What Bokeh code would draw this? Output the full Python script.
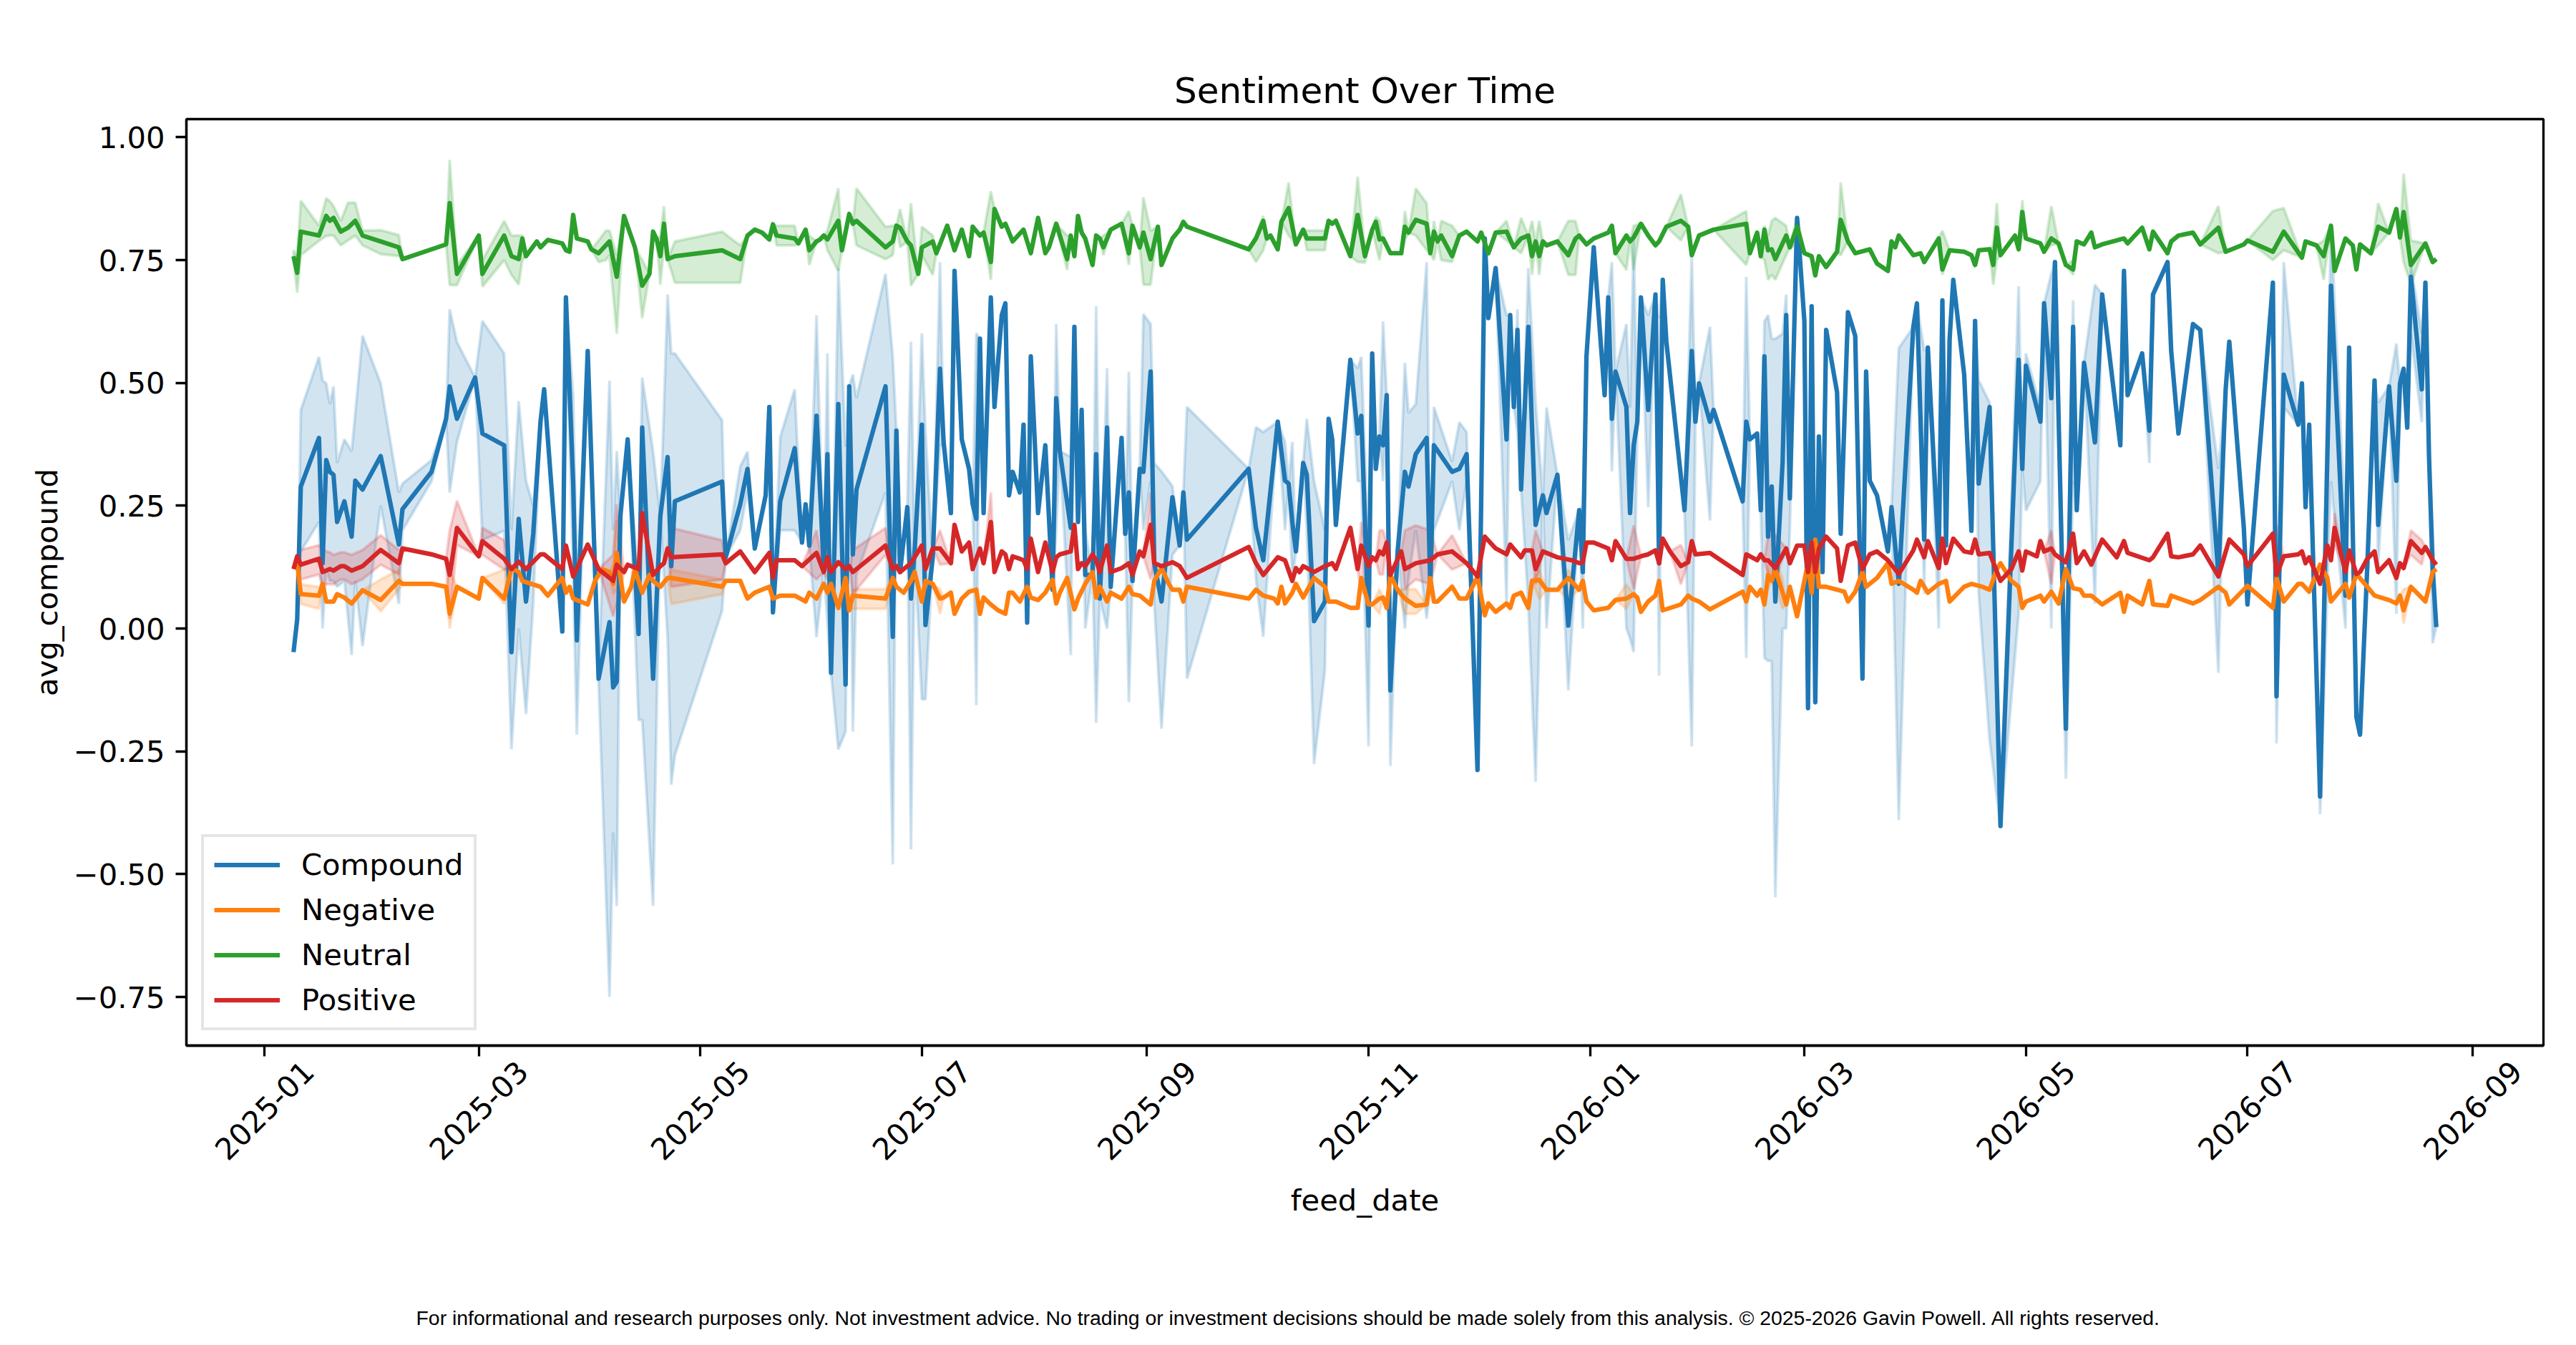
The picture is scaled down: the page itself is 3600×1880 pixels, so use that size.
import numpy as np
import pandas as pd
from bokeh.plotting import figure
from bokeh.layouts import column
from bokeh.core.properties import value
from bokeh.models import (Range1d, FixedTicker, MonthsTicker, CustomJSTickFormatter,
                          DatetimeTickFormatter, DatetimeAxis, Legend, LegendItem)
from bokeh.embed import file_html
from bokeh.resources import INLINE

BASE_DATE = "2025-01-01"   # feed_day values are days since this date

# ---------------- Compound ----------------
compound_day = [8,9,10,15,16,17,18,19,20,22,24,25,27,32,37,38,46,50,51,53,58,60,66,68,70,72,74,76,77,82,83,85,86,89,
    92,95,96,97,98,100,103,104,107,109,111,112,113,126,127,131,133,135,138,139,140,142,146,148,149,150,152,154,155,156,158,160,161,162,163,171,173,174,175,177,178,179,181,182,184,186,187,189,190,192,194,195,196,197,
    198,200,201,203,204,205,206,208,209,210,211,213,215,217,218,219,222,223,224,225,226,228,229,230,232,233,236,237,238,239,241,242,244,245,247,250,252,253,254,271,273,275,279,281,282,283,284,286,287,289,292,293,294,295,299,301,302,304,305,
    306,307,308,309,310,312,314,315,317,320,321,322,327,329,331,334,336,337,339,342,343,344,345,346,348,350,352,353,356,359,362,363,364,366,369,370,371,372,375,376,377,378,379,381,383,384,385,386,391,393,394,395,398,399,407,408,409,411,412,413,
    414,415,416,418,419,420,422,424,425,426,427,428,429,430,433,434,436,438,440,441,442,444,447,448,450,454,455,457,458,461,462,463,464,465,468,470,471,472,475,478,483,484,485,489,490,492,493,496,498,499,501,504,506,511,512,513,517,519,520,
    524,525,527,531,533,538,540,541,545,546,553,554,556,560,561,562,563,566,569,573,574,576,577,579,581,582,585,587,588,589,590,591,594,595,596,597,598]
compound_val = [-0.048,0.018,0.289,0.388,0.133,0.343,0.319,0.313,0.217,0.259,0.187,0.301,0.283,0.351,0.171,0.243,0.319,0.427,0.493,0.427,0.511,0.397,0.373,-0.048,0.223,0.055,0.193,0.421,0.487,-0.006,0.674,0.296,-0.024,0.565,
    -0.102,0.013,-0.120,-0.108,0.229,0.385,-0.011,0.409,-0.102,0.229,0.349,0.127,0.259,0.299,0.145,0.253,0.325,0.163,0.271,0.451,0.033,0.259,0.367,0.175,0.253,0.169,0.433,0.121,0.355,-0.090,0.457,-0.114,0.493,0.151,0.283,0.493,-0.017,0.403,0.115,0.247,0.061,0.157,0.415,0.007,0.145,0.529,0.379,0.235,0.728,0.385,0.325,0.253,0.223,0.590,
    0.235,0.674,0.451,0.638,0.662,0.271,0.319,0.277,0.415,0.012,0.554,0.235,0.373,0.079,0.469,0.361,0.205,0.614,0.217,0.445,0.109,0.109,0.355,0.061,0.409,0.085,0.388,0.193,0.277,0.097,0.325,0.319,0.523,0.133,0.055,0.267,0.169,0.277,0.181,0.325,0.205,0.139,0.421,0.301,0.295,0.217,0.157,0.337,0.313,0.015,0.055,0.427,0.385,0.211,0.547,0.397,0.433,0.006,0.560,
    0.325,0.391,0.373,0.475,-0.126,0.157,0.319,0.289,0.355,0.388,0.085,0.373,0.319,0.325,0.355,-0.288,0.794,0.632,0.734,0.385,0.638,0.451,0.608,0.283,0.614,0.211,0.271,0.235,0.313,0.006,0.241,0.115,0.554,0.776,0.475,0.674,0.427,0.523,0.451,0.235,0.373,0.421,0.674,0.445,0.680,0.133,0.710,0.584,0.241,0.565,0.421,0.499,0.421,0.445,0.259,0.421,0.385,0.397,0.241,0.554,
    0.187,0.289,0.055,0.337,0.638,0.265,0.836,0.626,-0.162,0.656,-0.150,0.391,0.115,0.608,0.481,0.193,0.644,0.596,-0.102,0.523,0.301,0.271,0.157,0.247,0.091,0.614,0.662,0.181,0.572,0.145,0.668,0.169,0.590,0.710,0.517,0.199,0.626,0.295,0.451,-0.402,0.547,0.325,0.535,0.421,0.662,0.469,0.746,-0.204,0.614,0.241,0.541,0.379,0.680,0.373,0.728,0.475,0.560,0.403,0.680,
    0.746,0.565,0.397,0.620,0.608,0.109,0.487,0.584,0.205,0.049,0.704,-0.138,0.517,0.415,0.499,0.247,0.415,-0.342,0.698,0.067,0.572,-0.180,-0.216,0.127,0.505,0.211,0.493,0.301,0.499,0.529,0.409,0.716,0.487,0.704,0.349,0.121,0.003]
compound_ci_day = [10,15,16,17,18,19,20,22,24,25,27,32,37,38,46,51,53,60,66,68,70,72,74,85,86,
    92,95,96,97,103,104,107,111,112,113,126,131,133,142,146,152,155,158,160,162,163,171,173,178,181,182,186,196,
    218,222,226,229,232,238,242,244,245,247,250,254,273,275,281,283,287,289,292,301,302,304,
    308,310,314,315,317,320,322,327,329,331,342,345,348,350,353,359,363,371,375,376,377,381,384,393,398,408,413,
    414,415,416,418,419,420,450,457,461,472,475,483,485,489,492,496,498,504,519,
    538,554,556,566,569,573,582,587,591,594,597]
compound_ci_lo = [0.157,0.217,0.000,0.121,0.097,0.097,0.085,0.097,-0.054,0.097,-0.036,0.25,0.05,0.2,0.30,0.277,0.38,0.18,0.199,-0.246,0.0,-0.174,0.05,0.1,-0.216,
    -0.11,-0.75,-0.415,-0.565,-0.186,-0.186,-0.565,-0.02,-0.318,-0.258,0.036,0.2,0.28,0.2,0.2,-0.018,0.012,-0.246,-0.21,-0.21,0.109,0.277,-0.48,-0.45,-0.144,-0.144,0.37,-0.156,
    0.2,-0.054,0.0,-0.192,0.0,-0.15,0.2,0.3,0.05,-0.204,0.15,-0.102,0.1,-0.017,0.2,0.1,0.2,-0.276,-0.084,0.3,0.3,-0.24,
    0.3,-0.28,0.0,0.1,0.2,0.02,0.2,0.3,0.2,0.3,0.05,0.4,0.049,-0.312,0.0,-0.126,0.0,0.32,0.0,-0.02,-0.048,0.247,-0.096,-0.24,0.22,-0.06,-0.06,
    -0.066,-0.066,-0.547,0.0,0.0,0.2,-0.39,0.07,0.0,0.07,-0.228,0.03,0.24,0.3,0.0,-0.306,0.3,0.05,0.337,
    -0.09,-0.234,0.45,-0.378,0.3,0.0,0.13,0.03,0.6,0.42,-0.03]
compound_ci_hi = [0.445,0.553,0.505,0.499,0.457,0.493,0.337,0.385,0.361,0.439,0.596,0.499,0.277,0.295,0.343,0.650,0.583,0.626,0.560,0.2,0.463,0.301,0.25,0.475,0.1,
    -0.09,0.505,0.2,0.361,0.085,0.511,0.361,0.68,0.560,0.560,0.424,0.33,0.36,0.39,0.487,0.638,0.560,0.734,0.37,0.517,0.469,0.722,0.553,0.584,0.601,0.4,0.746,0.601,
    0.62,0.35,0.2,0.656,0.53,0.523,0.64,0.62,0.337,0.32,0.29,0.451,0.41,0.4,0.38,0.38,0.427,0.30,0.2,0.53,0.553,0.15,
    0.625,0.0,0.541,0.439,0.457,0.746,0.451,0.34,0.42,0.4,0.638,0.65,0.734,0.46,0.45,0.18,0.25,0.746,0.62,0.45,0.793,0.638,0.632,0.758,0.614,0.716,0.625,
    0.638,0.59,0.59,0.6,0.68,0.35,0.571,0.566,0.2,0.505,0.46,0.697,0.56,0.45,0.722,-0.1,0.668,0.7,0.42,
    0.325,-0.05,0.746,-0.3,0.82,0.2,0.46,0.58,0.74,0.6,0.2]

# ---------------- Negative ----------------
negative_day = [8,9,10,15,16,17,19,20,22,24,27,32,37,38,46,50,51,53,59,60,66,68,70,71,76,78,82,83,84,85,89,
    91,93,95,96,97,99,101,102,104,106,107,109,111,112,126,127,131,133,135,139,140,142,146,149,150,152,154,155,156,158,160,161,162,171,173,174,176,178,179,181,182,184,186,187,189,190,192,194,196,197,
    198,200,202,204,205,206,208,210,211,213,215,217,218,219,221,223,224,226,228,229,230,232,233,236,238,239,241,244,245,247,249,250,252,253,254,271,273,275,278,279,280,281,283,284,286,289,292,293,295,299,301,302,304,305,
    307,308,309,310,312,314,317,320,321,322,323,327,329,331,334,336,337,339,342,343,344,346,348,349,351,353,356,359,362,363,364,366,370,372,375,377,378,379,381,383,384,385,390,392,393,395,398,407,408,409,411,412,413,
    414,415,416,418,419,420,422,425,426,427,428,430,433,435,436,438,440,441,444,447,448,450,454,455,456,458,461,463,464,468,470,473,475,477,478,481,483,484,485,489,490,492,494,496,498,500,501,503,506,511,512,513,517,519,520,
    524,525,531,533,538,540,541,546,553,554,556,560,561,563,566,568,569,573,574,576,579,581,585,587,588,589,591,595,597,598]
negative_val = [0.123,0.133,0.070,0.067,0.091,0.055,0.055,0.070,0.063,0.051,0.078,0.058,0.097,0.091,0.091,0.085,0.030,0.085,0.061,0.103,0.061,0.123,0.115,0.097,0.085,0.067,0.103,0.073,0.085,0.061,0.049,
    0.097,0.121,0.115,0.091,0.154,0.055,0.085,0.121,0.073,0.109,0.097,0.085,0.103,0.103,0.085,0.097,0.097,0.061,0.073,0.085,0.061,0.067,0.067,0.055,0.073,0.061,0.091,0.073,0.091,0.042,0.103,0.037,0.067,0.061,0.103,0.085,0.073,0.097,0.115,0.055,0.097,0.091,0.061,0.063,0.073,0.030,0.061,0.075,0.079,0.030,
    0.063,0.049,0.037,0.030,0.073,0.073,0.055,0.085,0.063,0.058,0.073,0.099,0.051,0.073,0.103,0.039,0.061,0.091,0.115,0.063,0.085,0.055,0.073,0.061,0.085,0.070,0.067,0.049,0.097,0.123,0.091,0.079,0.079,0.055,0.085,0.061,0.079,0.067,0.061,0.051,0.085,0.051,0.073,0.091,0.063,0.103,0.085,0.055,0.055,0.042,0.042,0.103,0.049,0.049,
    0.061,0.063,0.042,0.109,0.079,0.061,0.046,0.049,0.103,0.055,0.055,0.085,0.061,0.061,0.106,0.027,0.051,0.034,0.051,0.042,0.067,0.073,0.042,0.097,0.099,0.079,0.079,0.103,0.079,0.097,0.055,0.037,0.042,0.058,0.061,0.070,0.063,0.034,0.055,0.067,0.097,0.037,0.049,0.067,0.061,0.055,0.039,0.075,0.055,0.085,0.067,0.079,0.049,
    0.109,0.097,0.121,0.073,0.049,0.085,0.025,0.133,0.073,0.181,0.085,0.085,0.079,0.075,0.055,0.075,0.115,0.085,0.103,0.133,0.091,0.097,0.079,0.073,0.097,0.073,0.091,0.097,0.055,0.085,0.091,0.085,0.079,0.121,0.133,0.097,0.085,0.042,0.055,0.067,0.055,0.075,0.051,0.121,0.082,0.079,0.067,0.067,0.049,0.073,0.034,0.067,0.049,0.097,0.049,
    0.046,0.067,0.051,0.058,0.085,0.073,0.049,0.087,0.042,0.103,0.055,0.091,0.091,0.075,0.130,0.103,0.055,0.091,0.063,0.111,0.085,0.067,0.058,0.051,0.067,0.037,0.085,0.055,0.115,0.121]
negative_ci_day = [10,15,32,37,51,66,68,96,97,112,126,162,171,186,307,314,317,351,359,375,414,416,418,589]
negative_ci_lo = [0.05,0.04,0.035,0.08,0.0,0.05,0.09,0.07,0.08,0.05,0.07,0.04,0.04,0.03,0.03,0.03,0.03,0.06,0.06,0.04,0.08,0.09,0.04,0.01]
negative_ci_hi = [0.09,0.085,0.1,0.12,0.12,0.12,0.13,0.13,0.22,0.12,0.1,0.08,0.08,0.08,0.08,0.08,0.08,0.12,0.12,0.09,0.13,0.15,0.1,0.08]

# ---------------- Neutral ----------------
neutral_day = [8,9,10,15,17,18,19,21,23,25,27,32,37,38,50,51,53,59,60,66,68,70,71,72,75,76,78,82,83,84,85,86,
    89,90,92,94,95,97,99,102,104,106,107,108,109,110,111,113,126,131,133,135,137,139,140,141,146,147,149,150,152,153,154,155,158,159,161,162,163,171,173,174,175,177,178,180,181,184,185,188,190,192,194,195,
    197,198,200,201,203,204,206,209,211,213,215,216,218,221,222,223,224,225,226,228,229,230,231,233,236,238,239,241,242,244,246,247,250,252,253,254,271,273,275,276,277,279,280,282,284,286,287,292,293,294,295,299,301,303,305,
    306,307,308,310,313,314,315,317,320,321,322,323,324,327,329,331,334,335,337,339,342,344,346,348,349,350,351,352,353,356,359,361,362,364,366,370,371,372,375,376,377,379,381,383,384,386,390,392,393,395,399,408,409,411,412,413,
    414,415,416,419,420,422,424,426,427,428,430,433,434,436,438,442,444,447,448,449,450,454,456,457,461,462,464,468,470,471,472,475,476,477,478,482,483,484,485,489,490,492,494,496,498,499,501,503,504,506,512,513,517,519,520,
    524,525,527,531,533,538,540,545,546,553,556,561,562,565,567,569,570,573,575,576,577,580,582,585,587,588,589,591,595,597,598]
neutral_val = [0.758,0.724,0.808,0.800,0.840,0.830,0.836,0.808,0.816,0.830,0.800,0.788,0.776,0.752,0.782,0.866,0.722,0.800,0.722,0.800,0.758,0.752,0.794,0.758,0.788,0.776,0.791,0.784,0.770,0.767,0.842,0.794,
    0.788,0.772,0.764,0.780,0.788,0.716,0.840,0.776,0.698,0.722,0.808,0.792,0.758,0.824,0.752,0.758,0.770,0.752,0.800,0.812,0.806,0.792,0.823,0.800,0.794,0.784,0.812,0.770,0.788,0.792,0.800,0.792,0.830,0.770,0.844,0.824,0.830,0.776,0.788,0.820,0.816,0.788,0.780,0.722,0.776,0.788,0.764,0.820,0.770,0.812,0.758,0.818,
    0.800,0.806,0.746,0.854,0.818,0.824,0.788,0.812,0.764,0.836,0.764,0.776,0.824,0.752,0.800,0.758,0.840,0.806,0.794,0.740,0.800,0.794,0.776,0.812,0.824,0.764,0.820,0.776,0.806,0.752,0.818,0.740,0.794,0.812,0.828,0.818,0.772,0.794,0.830,0.794,0.800,0.772,0.828,0.856,0.782,0.812,0.794,0.794,0.830,0.824,0.830,0.758,0.842,0.758,0.812,
    0.828,0.792,0.794,0.764,0.764,0.818,0.806,0.832,0.824,0.764,0.808,0.788,0.800,0.758,0.800,0.808,0.788,0.806,0.764,0.806,0.808,0.776,0.794,0.800,0.758,0.788,0.758,0.788,0.780,0.788,0.760,0.794,0.800,0.782,0.794,0.806,0.820,0.764,0.800,0.788,0.796,0.824,0.800,0.780,0.788,0.818,0.830,0.818,0.760,0.800,0.812,0.824,0.764,0.806,0.758,0.812,
    0.770,0.772,0.752,0.800,0.776,0.818,0.764,0.758,0.719,0.758,0.736,0.767,0.832,0.788,0.764,0.772,0.743,0.728,0.788,0.776,0.800,0.760,0.764,0.746,0.794,0.731,0.770,0.767,0.760,0.740,0.770,0.772,0.740,0.816,0.760,0.800,0.772,0.848,0.794,0.784,0.767,0.794,0.784,0.740,0.731,0.788,0.782,0.806,0.776,0.782,0.794,0.784,0.816,0.772,0.808,
    0.764,0.788,0.800,0.806,0.782,0.816,0.767,0.782,0.790,0.767,0.808,0.755,0.788,0.780,0.758,0.820,0.728,0.794,0.780,0.731,0.782,0.764,0.818,0.806,0.854,0.796,0.848,0.740,0.784,0.746,0.752]
neutral_ci_day = [8,9,10,15,17,18,19,21,23,25,27,32,37,51,53,60,66,68,70,71,
    92,94,95,97,104,109,110,113,126,131,141,146,150,155,158,163,171,173,175,178,181,184,
    200,221,231,238,242,244,273,275,282,287,292,301,303,
    306,307,314,317,320,322,324,327,342,346,349,351,359,361,375,377,390,408,413,
    414,415,416,419,422,434,462,476,477,484,492,498,
    538,553,556,567,582,589,591]
neutral_ci_lo = [0.75,0.684,0.76,0.789,0.799,0.80,0.80,0.78,0.79,0.80,0.78,0.762,0.758,0.699,0.699,0.696,0.75,0.72,0.70,0.75,
    0.746,0.75,0.76,0.60,0.632,0.70,0.78,0.704,0.704,0.704,0.78,0.78,0.74,0.77,0.728,0.78,0.752,0.76,0.776,0.698,0.76,0.72,
    0.71,0.73,0.76,0.74,0.70,0.70,0.746,0.77,0.80,0.77,0.77,0.746,0.745,
    0.78,0.75,0.79,0.80,0.77,0.75,0.75,0.746,0.79,0.764,0.72,0.72,0.72,0.72,0.73,0.73,0.79,0.74,0.75,
    0.71,0.72,0.71,0.76,0.78,0.76,0.72,0.70,0.75,0.80,0.78,0.72,
    0.764,0.75,0.77,0.71,0.78,0.746,0.70]
neutral_ci_hi = [0.77,0.76,0.871,0.82,0.876,0.87,0.86,0.83,0.867,0.867,0.81,0.811,0.801,0.954,0.74,0.75,0.83,0.8,0.80,0.8,
    0.79,0.81,0.81,0.76,0.75,0.80,0.86,0.788,0.808,0.78,0.82,0.82,0.8,0.81,0.896,0.896,0.818,0.82,0.854,0.866,0.818,0.8,
    0.89,0.80,0.80,0.85,0.878,0.81,0.80,0.84,0.908,0.81,0.81,0.92,0.77,
    0.838,0.83,0.85,0.896,0.866,0.83,0.83,0.82,0.83,0.836,0.83,0.83,0.83,0.83,0.80,0.82,0.884,0.85,0.82,
    0.80,0.83,0.836,0.82,0.84,0.908,0.81,0.78,0.866,0.872,0.86,0.75,
    0.86,0.85,0.856,0.79,0.866,0.926,0.79]

# ---------------- Positive ----------------
positive_day = [8,9,10,15,16,18,19,21,22,24,27,32,37,38,46,50,51,53,59,60,66,68,70,72,76,77,82,83,85,89,
    92,96,97,99,100,103,104,105,107,109,110,111,112,126,127,131,135,139,140,141,146,148,152,154,155,156,158,160,161,162,171,173,174,175,178,181,182,184,186,189,190,192,194,195,
    197,198,200,201,203,204,205,206,208,209,210,211,213,215,217,218,219,222,223,224,225,226,228,229,230,232,233,236,238,239,241,242,244,245,247,250,252,254,271,273,275,279,281,283,284,285,286,289,292,294,295,299,301,302,304,305,
    306,307,308,309,310,313,314,317,321,323,327,331,334,336,339,342,343,346,347,349,350,352,356,360,362,363,364,366,370,371,372,375,377,379,381,383,384,385,387,390,392,393,394,398,407,408,411,412,413,
    414,416,419,420,422,424,425,426,427,428,430,433,434,436,438,440,442,444,447,450,454,455,457,458,461,462,463,465,468,470,471,472,475,478,481,483,484,485,488,489,490,492,493,496,498,499,501,503,506,510,512,513,519,
    520,524,525,527,531,533,538,541,545,546,553,554,556,560,561,562,563,566,568,569,570,573,574,576,577,579,581,582,585,587,588,589,591,594,595,597,598]
positive_val = [0.121,0.147,0.130,0.142,0.115,0.121,0.118,0.127,0.127,0.118,0.127,0.160,0.133,0.163,0.151,0.142,0.109,0.205,0.147,0.178,0.142,0.121,0.136,0.121,0.151,0.151,0.121,0.169,0.106,0.171,
    0.121,0.097,0.130,0.115,0.130,0.121,0.235,0.193,0.109,0.127,0.133,0.163,0.145,0.151,0.133,0.157,0.115,0.154,0.103,0.139,0.139,0.127,0.154,0.115,0.145,0.115,0.135,0.121,0.127,0.115,0.169,0.121,0.127,0.115,0.133,0.169,0.121,0.163,0.163,0.133,0.211,0.157,0.175,0.121,
    0.163,0.133,0.217,0.115,0.157,0.151,0.121,0.147,0.142,0.139,0.121,0.183,0.115,0.175,0.115,0.145,0.151,0.157,0.211,0.121,0.133,0.127,0.151,0.139,0.115,0.169,0.115,0.123,0.133,0.109,0.157,0.147,0.211,0.133,0.127,0.135,0.127,0.103,0.166,0.133,0.109,0.145,0.139,0.097,0.123,0.115,0.127,0.115,0.127,0.133,0.121,0.205,0.121,0.169,0.127,0.145,
    0.139,0.157,0.151,0.175,0.109,0.157,0.121,0.133,0.139,0.151,0.157,0.133,0.106,0.187,0.163,0.151,0.171,0.145,0.159,0.159,0.121,0.157,0.145,0.139,0.133,0.135,0.175,0.175,0.163,0.139,0.178,0.142,0.142,0.147,0.151,0.159,0.133,0.183,0.157,0.127,0.135,0.178,0.151,0.154,0.109,0.151,0.139,0.151,0.139,
    0.139,0.123,0.163,0.133,0.169,0.169,0.115,0.175,0.115,0.163,0.187,0.163,0.097,0.169,0.175,0.121,0.151,0.157,0.139,0.111,0.159,0.181,0.145,0.178,0.123,0.183,0.133,0.183,0.157,0.154,0.181,0.151,0.154,0.097,0.121,0.157,0.118,0.157,0.147,0.178,0.157,0.163,0.151,0.135,0.193,0.133,0.157,0.130,0.181,0.145,0.178,0.154,0.139,
    0.145,0.193,0.147,0.145,0.151,0.169,0.106,0.181,0.151,0.127,0.193,0.109,0.147,0.151,0.157,0.133,0.145,0.091,0.169,0.139,0.205,0.115,0.159,0.111,0.115,0.142,0.157,0.115,0.139,0.103,0.133,0.123,0.178,0.154,0.166,0.139,0.130]
positive_ci_day = [10,15,16,18,19,21,22,24,27,32,37,51,53,60,66,96,97,112,126,152,155,162,171,186,200,244,302,
    307,308,314,317,321,327,350,377,390,414,416,492,554,570,591,594]
positive_ci_lo = [0.10,0.11,0.09,0.09,0.09,0.10,0.10,0.09,0.10,0.13,0.11,0.02,0.17,0.15,0.12,0.025,0.05,0.085,0.10,0.10,0.10,0.07,0.15,0.13,0.17,0.10,0.07,
    0.11,0.11,0.08,0.10,0.09,0.12,0.09,0.08,0.09,0.11,0.10,0.09,0.09,0.17,0.15,0.13]
positive_ci_hi = [0.16,0.17,0.16,0.155,0.15,0.155,0.155,0.15,0.16,0.19,0.16,0.20,0.26,0.205,0.18,0.15,0.253,0.205,0.18,0.20,0.19,0.16,0.205,0.20,0.277,0.277,0.217,
    0.20,0.20,0.20,0.21,0.20,0.19,0.20,0.21,0.17,0.19,0.19,0.20,0.21,0.235,0.20,0.18]

series_names = ["Compound", "Negative", "Neutral", "Positive"]
series_colors = ["#1f77b4", "#ff7f0e", "#2ca02c", "#d62728"]
y_ticks = [-0.75, -0.5, -0.25, 0.0, 0.25, 0.5, 0.75, 1.0]
x_tick_months = [0, 2, 4, 6, 8, 10]          # Jan, Mar, May, Jul, Sep, Nov
title_text = "Sentiment Over Time"
x_label = "feed_date"
y_label = "avg_compound"
footer_text = ("For informational and research purposes only. Not investment advice. "
               "No trading or investment decisions should be made solely from this analysis. "
               "\u00a9 2025-2026 Gavin Powell. All rights reserved.")

base = pd.Timestamp(BASE_DATE)


def to_dates(days):
    return (base + pd.to_timedelta(np.asarray(days), unit="D")).values


def band_polygon(days, vals, ci_day, ci_lo, ci_hi):
    lo_map = dict(zip(ci_day, ci_lo))
    hi_map = dict(zip(ci_day, ci_hi))
    lows = [lo_map.get(d, v) for d, v in zip(days, vals)]
    highs = [hi_map.get(d, v) for d, v in zip(days, vals)]
    x = to_dates(days)
    return np.concatenate([x, x[::-1]]), lows + highs[::-1]


series = [
    (compound_day, compound_val, compound_ci_day, compound_ci_lo, compound_ci_hi),
    (negative_day, negative_val, negative_ci_day, negative_ci_lo, negative_ci_hi),
    (neutral_day, neutral_val, neutral_ci_day, neutral_ci_lo, neutral_ci_hi),
    (positive_day, positive_val, positive_ci_day, positive_ci_lo, positive_ci_hi),
]

W = 3600
FOOT_H = 78
H = 1880 - FOOT_H
FRAME_L, FRAME_R, FRAME_T, FRAME_B = 260, 3554, 166, 1461
FONT = "DejaVu Sans"
TICK_PX = "41.7px"
X_START, X_END = base - pd.Timedelta(days=21.5), base + pd.Timedelta(days=627.5)
# rotated labels are anchored at their right end; shift them so each label is centred on its tick
LABEL_SHIFT = pd.Timedelta(days=12.1)

p = figure(width=W, height=H, x_axis_type="datetime", output_backend="svg",
           toolbar_location=None,
           x_range=Range1d(X_START, X_END), y_range=Range1d(-0.849, 1.037),
           min_border_left=FRAME_L, min_border_right=W - FRAME_R,
           min_border_top=FRAME_T, min_border_bottom=H - FRAME_B)
p.background_fill_color = "white"
p.border_fill_color = "white"
p.grid.visible = False
p.outline_line_color = "black"
p.outline_line_width = 3.3

p.title.text = title_text
p.title.align = "center"
p.title.text_font = FONT
p.title.text_font_size = "50px"
p.title.text_font_style = "normal"
p.title.text_color = "black"
p.title.standoff = 22

# bands under lines
for (days, vals, cd, clo, chi), col in zip(series, series_colors):
    xs, ys = band_polygon(days, vals, cd, clo, chi)
    p.patch(xs, ys, fill_color=col, fill_alpha=0.2, line_color=col, line_alpha=0.2, line_width=4)

items = []
for (days, vals, _, _, _), col, name in zip(series, series_colors, series_names):
    r = p.line(to_dates(days), vals, line_color=col, line_width=6.25, line_join="round")
    items.append(LegendItem(label=name, renderers=[r]))


def style_axis(ax):
    ax.axis_line_width = 3.3
    ax.major_tick_line_width = 3.3
    ax.major_tick_out = 15
    ax.major_tick_in = 0
    ax.minor_tick_line_color = None
    ax.major_label_text_font = FONT
    ax.major_label_text_font_size = TICK_PX
    ax.major_label_text_color = "black"
    ax.axis_label_text_font = FONT
    ax.axis_label_text_font_size = TICK_PX
    ax.axis_label_text_font_style = "normal"
    ax.axis_label_text_color = "black"


style_axis(p.xaxis[0])
style_axis(p.yaxis[0])

# x axis 1: tick marks only
p.xaxis.ticker = MonthsTicker(months=x_tick_months)
p.xaxis.formatter = CustomJSTickFormatter(code="return '';")
p.xaxis.major_label_text_font_size = "1px"
p.xaxis.major_label_standoff = 0

# x axis 2: rotated month labels + axis title
p.extra_x_ranges = {"labels": Range1d(X_START - LABEL_SHIFT, X_END - LABEL_SHIFT)}
fmt = "%Y-%m"
lab_axis = DatetimeAxis(x_range_name="labels", ticker=MonthsTicker(months=x_tick_months),
                        formatter=DatetimeTickFormatter(years=fmt, months=fmt, days=fmt, hours=fmt))
style_axis(lab_axis)
lab_axis.axis_line_color = None
lab_axis.major_tick_line_color = None
lab_axis.major_tick_out = 0
lab_axis.major_label_orientation = np.pi / 4
lab_axis.major_label_standoff = 14
lab_axis.axis_label = x_label
lab_axis.axis_label_standoff = 15
p.add_layout(lab_axis, "below")

p.yaxis.ticker = FixedTicker(ticks=y_ticks)
p.yaxis.formatter = CustomJSTickFormatter(
    code="return (tick < 0 ? '\u2212' : '') + Math.abs(tick).toFixed(2);")
p.yaxis.major_label_standoff = 15
p.yaxis.axis_label = y_label
p.yaxis.axis_label_standoff = 10

legend = Legend(items=items, location="bottom_left", margin=21, padding=14,
                spacing=14, glyph_width=92, glyph_height=41, label_height=41,
                label_standoff=30, label_text_font=FONT, label_text_font_size=TICK_PX,
                label_text_color="black",
                border_line_color="#cccccc", border_line_width=4,
                background_fill_color="white", background_fill_alpha=0.8)
p.add_layout(legend)

# footer strip (figure-level disclaimer, centred on the page); the column layout aligns
# this strip's frame with the main plot frame, so centre the text on the page width
foot = figure(width=W, height=FOOT_H, x_range=(0, 1), y_range=(0, 1),
              output_backend="svg", toolbar_location=None,
              x_axis_location=None, y_axis_location=None, min_border=0)
foot.grid.visible = False
foot.outline_line_color = None
foot.background_fill_color = "white"
foot.border_fill_color = "white"
page_centre = (W / 2 - FRAME_L) / (FRAME_R - FRAME_L)
foot.text(x=[page_centre], y=[0.5], text=[footer_text], text_align="center", text_baseline="middle",
          text_font=value("Liberation Sans"), text_font_size=value("28.4px"), text_color="black")

open("out.html", "w").write(file_html(column(p, foot, spacing=0), INLINE))
